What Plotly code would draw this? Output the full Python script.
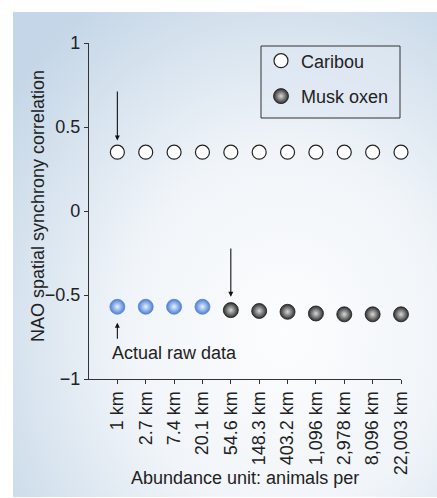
import base64
import plotly.graph_objects as go

# ---- data ----
categories = ["1 km", "2.7 km", "7.4 km", "20.1 km", "54.6 km", "148.3 km",
              "403.2 km", "1,096 km", "2,978 km", "8,096 km", "22,003 km"]
caribou = [0.35, 0.35, 0.35, 0.35, 0.35, 0.35, 0.35, 0.35, 0.35, 0.35, 0.35]
musk_oxen = [-0.57, -0.57, -0.57, -0.57, -0.59, -0.595, -0.60, -0.61, -0.615, -0.615, -0.615]
raw_count = 4  # first musk-oxen points drawn in blue
y_tickvals = [-1, -0.5, 0, 0.5, 1]
y_ticktext = ["\u22121", "\u22120.5", "0", "0.5", "1"]

FONT = "Liberation Sans, Arial, sans-serif"
FS = 18

fig = go.Figure()

fig.add_trace(go.Scatter(
    x=categories, y=caribou, mode="markers", name="Caribou",
    legendgroup="a", cliponaxis=False,
    marker=dict(size=14, color="white", line=dict(color="#222222", width=1.2)),
))
fig.add_trace(go.Scatter(
    x=categories[:raw_count], y=musk_oxen[:raw_count], mode="markers",
    showlegend=False, cliponaxis=False,
    marker=dict(size=15, color="#4a7ed4", gradient=dict(type="radial", color="#e8f0fd"),
                line=dict(color="#5a88d0", width=0.8)),
))
fig.add_trace(go.Scatter(
    x=categories[raw_count:], y=musk_oxen[raw_count:], mode="markers", name="Musk oxen",
    legendgroup="b", cliponaxis=False,
    marker=dict(size=15, color="#2e2e2e", gradient=dict(type="radial", color="#d8d8d8"),
                line=dict(color="#1a1a1a", width=0.8)),
))

# background gradient panel
svg = ("<svg xmlns='http://www.w3.org/2000/svg' width='424' height='485' viewBox='0 0 424 485' "
       "preserveAspectRatio='none'><defs><radialGradient id='g' cx='0.64' cy='0.66' r='0.82' "
       "gradientUnits='objectBoundingBox'><stop offset='0' stop-color='#fcfdfe'/>"
       "<stop offset='0.45' stop-color='#f1f5f9'/><stop offset='1' stop-color='#c4d6e7'/>"
       "</radialGradient></defs><rect width='424' height='485' fill='url(#g)'/></svg>")
src = "data:image/svg+xml;base64," + base64.b64encode(svg.encode()).decode()

L, R, T, B = 89, 36, 43, 119
W, H = 437, 498
pw, ph = W - L - R, H - T - B
px0, px1, py0, py1 = 13, 437, 12, 497


def paper_x(px):
    return (px - L) / pw


def paper_y(py):
    return (H - B - py) / ph


fig.add_layout_image(dict(
    source=src, xref="paper", yref="paper",
    x=paper_x(px0), y=paper_y(py0),
    sizex=(px1 - px0) / pw, sizey=(py1 - py0) / ph,
    sizing="stretch", xanchor="left", yanchor="top", layer="below",
))

# legend box
fig.add_shape(type="rect", xref="paper", yref="paper",
              x0=paper_x(261), x1=paper_x(400), y0=paper_y(118), y1=paper_y(46),
              fillcolor="rgba(222,232,242,0.55)", line=dict(color="#333333", width=1),
              layer="below")

arrow = dict(showarrow=True, arrowhead=2, arrowsize=0.9, arrowwidth=1.1, arrowcolor="#111111",
             text="", axref="x", ayref="y")
fig.add_annotation(x=0, y=0.42, ax=0, ay=0.72, **arrow)
fig.add_annotation(x=4, y=-0.51, ax=4, ay=-0.215, **arrow)
fig.add_annotation(x=0, y=-0.665, ax=0, ay=-0.77, **arrow)
fig.add_annotation(x=-0.25, y=-0.845, text="Actual raw data", showarrow=False,
                   xanchor="left", yanchor="middle", font=dict(size=FS, color="#222222"))

# axis titles placed as paper annotations
fig.add_annotation(xref="paper", yref="paper", x=paper_x(38), y=paper_y(206),
                   text="NAO spatial synchrony correlation", textangle=-90, showarrow=False,
                   xanchor="center", yanchor="middle", font=dict(size=FS, color="#222222"))
fig.add_annotation(xref="paper", yref="paper", x=paper_x(245), y=paper_y(478),
                   text="Abundance unit: animals per", showarrow=False,
                   xanchor="center", yanchor="middle", font=dict(size=FS, color="#222222"))

fig.update_layout(
    width=W, height=H,
    margin=dict(l=L, r=R, t=T, b=B, autoexpand=False),
    paper_bgcolor="white", plot_bgcolor="rgba(0,0,0,0)",
    font=dict(family=FONT, size=FS, color="#222222"),
    showlegend=True,
    legend=dict(
        x=paper_x(261), y=paper_y(42.5), xanchor="left", yanchor="top",
        bgcolor="rgba(0,0,0,0)", borderwidth=0,
        font=dict(size=FS, color="#222222"), traceorder="grouped", tracegroupgap=9,
        entrywidth=105, itemwidth=30,
    ),
    xaxis=dict(
        type="category", range=[-1, 10], showgrid=False, zeroline=False,
        showline=True, linecolor="#333333", linewidth=1.2,
        ticks="outside", ticklen=4, tickcolor="#333333", tickangle=-90,
        tickfont=dict(size=FS),
    ),
    yaxis=dict(
        range=[-1, 1], showgrid=False, zeroline=False,
        showline=True, linecolor="#333333", linewidth=1.2,
        ticks="outside", ticklen=4, tickcolor="#333333",
        tickvals=y_tickvals, ticktext=y_ticktext, tickfont=dict(size=FS),
    ),
)

fig.write_html("out.html", config={"displayModeBar": False},
               post_script="document.body.style.margin='0';document.body.style.padding='0';")
